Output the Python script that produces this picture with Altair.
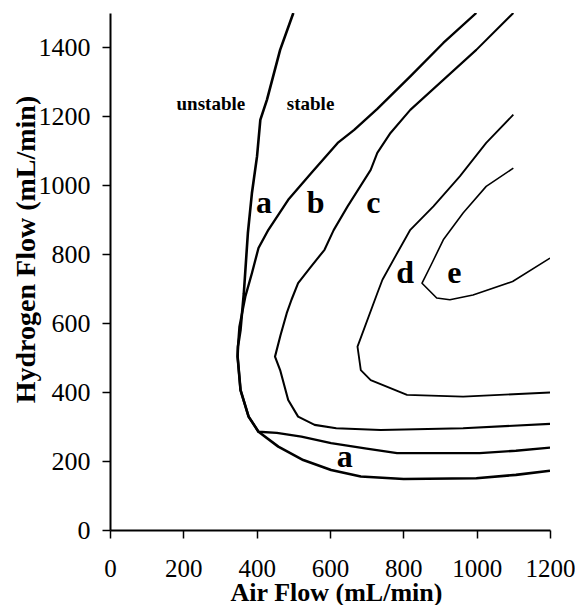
import altair as alt
import pandas as pd

# ---- data ----
air_ticks = [0, 200, 400, 600, 800, 1000, 1200]
h2_ticks = [0, 200, 400, 600, 800, 1000, 1200, 1400]

boundary_x = [500, 464, 428, 410, 401, 387, 376, 365, 356, 349, 348, 356, 378, 405, 459, 527, 603, 684, 801, 999, 1107, 1200]
boundary_y = [1500, 1393, 1248, 1190, 1084, 977, 861, 687, 581, 532, 503, 406, 329, 285, 242, 203, 174, 155, 148, 150, 160, 172]

a_x = [999, 909, 819, 729, 666, 621, 549, 486, 432, 405, 387, 369, 353, 349, 348, 356, 378, 405, 455, 522, 603, 700, 783, 1008, 1107, 1200]
a_y = [1500, 1413, 1316, 1222, 1161, 1123, 1036, 958, 871, 818, 745, 677, 590, 532, 503, 406, 329, 285, 282, 271, 252, 236, 223, 223, 230, 239]

b_x = [1100, 999, 909, 819, 765, 729, 711, 648, 610, 585, 545, 513, 495, 482, 465, 450, 464, 486, 513, 558, 617, 738, 963, 1200]
b_y = [1500, 1393, 1306, 1219, 1152, 1094, 1045, 939, 870, 813, 760, 716, 668, 629, 565, 503, 464, 377, 329, 305, 295, 290, 295, 308]

c_x = [1100, 1026, 954, 882, 819, 783, 743, 729, 675, 684, 711, 810, 963, 1200]
c_y = [1205, 1123, 1026, 939, 871, 803, 726, 687, 532, 464, 435, 392, 387, 399]

d_x = [1100, 1026, 963, 909, 878, 851, 891, 927, 990, 1098, 1200]
d_y = [1050, 997, 920, 842, 774, 716, 673, 668, 682, 721, 789]

small_text = ["unstable", "stable"]
small_x = [275, 547]
small_y = [1219, 1219]

big_text = ["a", "b", "c", "d", "e", "a"]
big_x = [420, 561, 718, 805, 939, 640]
big_y = [919, 919, 919, 716, 716, 184]

# ---- tables ----
rows = []
for name, xs, ys in [("boundary", boundary_x, boundary_y), ("a", a_x, a_y),
                     ("b", b_x, b_y), ("c", c_x, c_y), ("d", d_x, d_y)]:
    for i, (xv, yv) in enumerate(zip(xs, ys)):
        rows.append({"curve": name, "i": i, "x": xv, "y": yv})
lines_df = pd.DataFrame(rows)
small_df = pd.DataFrame({"label": small_text, "x": small_x, "y": small_y})
big_df = pd.DataFrame({"label": big_text, "x": big_x, "y": big_y})

FONT = "Liberation Serif"

xscale = alt.Scale(domain=[0, 1200], nice=False, zero=False)
yscale = alt.Scale(domain=[0, 1500], nice=False, zero=False)

xaxis = alt.Axis(
    values=air_ticks, format="d", title="Air Flow (mL/min)", grid=False,
    domainColor="black", domainWidth=2, tickColor="black", tickWidth=1.5, tickSize=8,
    labelFont=FONT, labelFontSize=25, labelColor="black", labelBaseline="alphabetic",
    labelPadding=38, labelFlush=False, labelOverlap=False,
    titleFont=FONT, titleFontSize=26, titleFontWeight="bold", titleColor="black",
    titleX=226, titleY=70, titleBaseline="alphabetic", titleAlign="center",
)
yaxis = alt.Axis(
    values=h2_ticks, format="d", title="Hydrogen Flow (mL/min)", grid=False,
    domainColor="black", domainWidth=2, tickColor="black", tickWidth=1.5, tickSize=8,
    labelFont=FONT, labelFontSize=26, labelColor="black", labelBaseline="middle",
    labelPadding=12, labelFlush=False, labelOverlap=False,
    titleFont=FONT, titleFontSize=28, titleFontWeight="bold", titleColor="black",
    titleX=-76, titleY=236, titleAngle=270, titleBaseline="alphabetic", titleAlign="center",
)

X = alt.X("x:Q", scale=xscale, axis=xaxis)
Y = alt.Y("y:Q", scale=yscale, axis=yaxis)

lines = alt.Chart(lines_df).mark_line(color="black", clip=True, strokeJoin="round").encode(
    x=X, y=Y,
    detail="curve:N",
    order="i:Q",
    strokeWidth=alt.StrokeWidth(
        "curve:N",
        scale=alt.Scale(domain=["boundary", "a", "b", "c", "d"], range=[2.6, 1.6, 1.6, 1.6, 1.6]),
        legend=None,
    ),
)

small = alt.Chart(small_df).mark_text(
    font=FONT, fontSize=19, fontWeight="bold", color="black", baseline="alphabetic", align="center"
).encode(x=X, y=Y, text="label:N")

big = alt.Chart(big_df).mark_text(
    font=FONT, fontSize=32, fontWeight="bold", color="black", baseline="alphabetic", align="center"
).encode(x=X, y=Y, text="label:N")

chart = alt.layer(lines, small, big).properties(
    width=440, height=517,
    autosize=alt.AutoSizeParams(type="none"),
    padding={"left": 102, "top": 5, "right": 25, "bottom": 75},
    background="white",
).configure(font=FONT).configure_axis(
    labelFont=FONT, titleFont=FONT
).configure_text(font=FONT).configure_view(stroke=None)

chart.save("out.html", embed_options={"renderer": "svg", "actions": False})
